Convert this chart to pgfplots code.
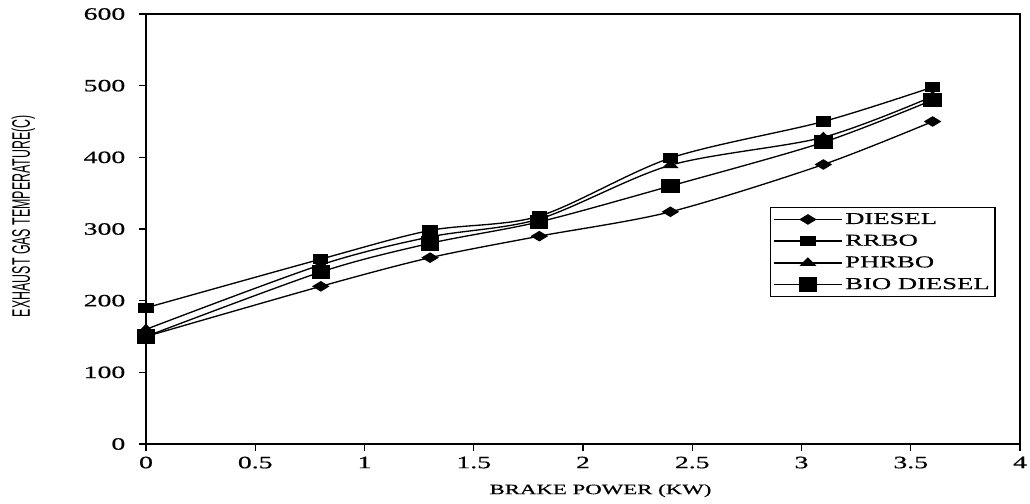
\documentclass[border=0pt]{standalone}
\usepackage{fontspec}
\setmainfont{Liberation Serif}[FakeStretch=1.6, FakeBold=0.6]
\newfontfamily\ylabfont{Liberation Sans}[FakeStretch=0.49]
\usepackage{pgfplots}
\pgfplotsset{compat=1.18}
\usetikzlibrary{calc}

\pgfplotstableread{
x    diesel rrbo phrbo bio
0    150    190  160   150
0.8  220    258  250   240
1.3  260    298  289   280
1.8  290    318  314   310
2.4  324    399  389   360
3.1  390    450  428   421
3.6  450    498  485   480
}\egtdata

\begin{document}
\begin{tikzpicture}
\begin{axis}[
    scale only axis, width=655.5pt, height=322.5pt,
    xmin=0, xmax=4, ymin=0, ymax=600,
    xtick={0,0.5,...,4}, ytick={0,100,...,600},
    tick align=outside, xtick pos=bottom, ytick pos=left,
    major tick length=5pt,
    tick style={line width=0.8pt, black},
    axis line style={line width=1pt},
    ticklabel style={font=\fontsize{13}{14}\selectfont},
    xticklabel style={yshift=-1pt},
    yticklabel style={xshift=-7pt},
    /pgf/number format/assume math mode=true,
    xlabel={BRAKE POWER (KW)},
    xlabel style={at={(axis description cs:0.52,0)}, anchor=center, yshift=-35pt,
                  font=\fontsize{10.7}{12}\selectfont},
    ylabel={\ylabfont\fontsize{19}{21}\selectfont EXHAUST GAS TEMPERATURE(C)},
    ylabel style={at={(axis description cs:-0.1404,0.53)}, anchor=center},
    legend style={at={(rel axis cs:0.714,0.551)}, anchor=north west,
                  draw=black, line width=0.8pt, inner sep=2pt,
                  font=\fontsize{12.5}{13}\selectfont, row sep=2.5pt,
                  cells={anchor=west}},
    legend image code/.code={
        \draw[mark repeat=2, mark phase=2, #1]
            plot coordinates {(0pt,0pt) (25.5pt,0pt) (51pt,0pt)};},
]
\addplot[black, line width=1pt, smooth, tension=0.5,
    mark=diamond*, mark size=3.4pt, mark options={xscale=2.2, solid}]
    table[x=x, y=diesel] {\egtdata};
\addlegendentry{DIESEL}
\addplot[black, line width=1pt, smooth, tension=0.5,
    mark=square*, mark size=3.4pt, mark options={xscale=1.55, solid}]
    table[x=x, y=rrbo] {\egtdata};
\addlegendentry{RRBO}
\addplot[black, line width=1pt, smooth, tension=0.5,
    mark=triangle*, mark size=3.5pt, mark options={xscale=1.7, solid}]
    table[x=x, y=phrbo] {\egtdata};
\addlegendentry{PHRBO}
\addplot[black, line width=1pt, smooth, tension=0.5,
    mark=square*, mark size=4.9pt, mark options={xscale=1.3, solid}]
    table[x=x, y=bio] {\egtdata};
\addlegendentry{BIO DIESEL}
\end{axis}
\pgfresetboundingbox
\path ($(current axis.south west)+(-109.5pt,-44.25pt)$)
    rectangle ($(current axis.north east)+(7.5pt,10.5pt)$);
\end{tikzpicture}
\end{document}
